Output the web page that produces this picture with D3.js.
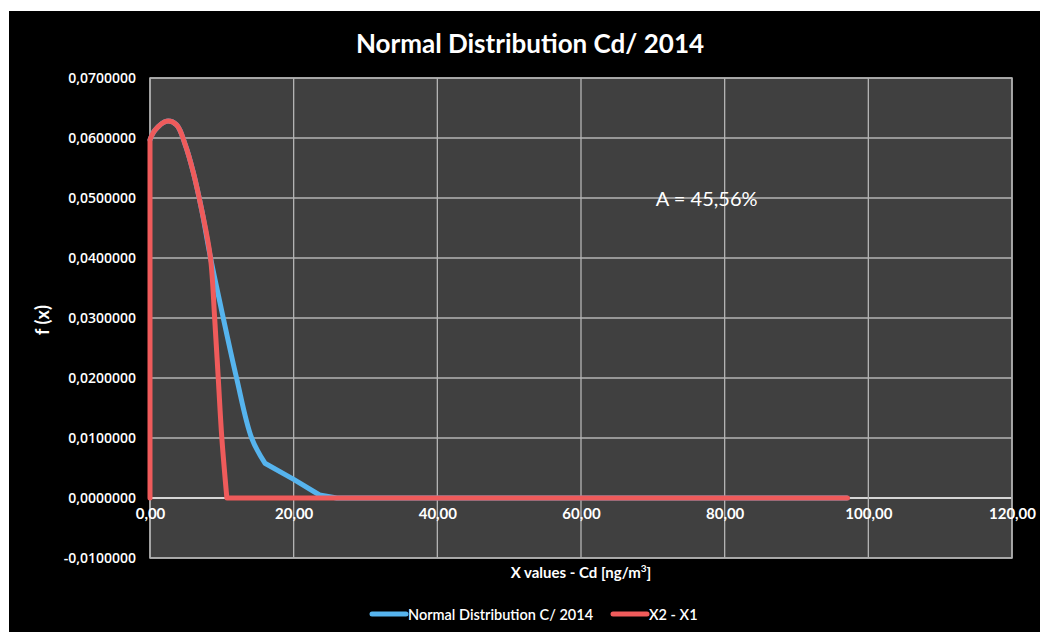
<!DOCTYPE html>
<html>
<head>
<meta charset="utf-8">
<script src="https://cdn.jsdelivr.net/npm/d3@7"></script>
<style>
  html, body { margin: 0; padding: 0; background: #ffffff; }
  svg { display: block; }
</style>
</head>
<body>
<svg id="chart" width="1040" height="632"></svg>
<script>
// Tick values
const xTicks = [0, 20, 40, 60, 80, 100, 120];
const yTicks = [-0.01, 0, 0.01, 0.02, 0.03, 0.04, 0.05, 0.06, 0.07];

// Normal distribution curve for Cd 2014: x (ng/m3) and f(x)
const normalX = [0, 0.7, 2.3, 3.7, 4.9, 6.0, 7.2, 8.4, 10.2, 12.05, 14.15, 16.0, 20.0, 23.6, 26.0, 40, 60, 80, 97];
const normalF = [0.0597, 0.0613, 0.0628, 0.0622, 0.0589, 0.0544, 0.0480, 0.0402, 0.0300, 0.0200, 0.0100, 0.0058, 0.0031, 0.0005, 0.0000, 0, 0, 0, 0];

// Area between X1 and X2: rising edge, curve section, falling edge, baseline
const areaX = [0, 0, 0.7, 2.3, 3.7, 4.9, 6.0, 7.2, 8.4, 9.0, 9.5, 10.0, 10.7, 97.1];
const areaF = [0, 0.0597, 0.0613, 0.0628, 0.0622, 0.0589, 0.0544, 0.0480, 0.0402, 0.0300, 0.0200, 0.0100, 0, 0];

const seriesNames = ["Normal Distribution C/ 2014", "X2 - X1"];
const seriesColors = ["#56b4ee", "#ef5b5b"];
const annotation = { x: 77.5, y: 0.05, text: "A = 45,56%" };

const svg = d3.select("#chart");
const W = 1040, H = 632;
const plot = { left: 150, right: 1012, top: 78, bottom: 558 };

const fmtLocale = d3.formatLocale({ decimal: ",", thousands: ".", grouping: [3], currency: ["", ""], minus: "-" });
const fmtY = fmtLocale.format(".7f");
const fmtX = fmtLocale.format(".2f");

const x = d3.scaleLinear().domain([0, 120]).range([plot.left, plot.right]);
const y = d3.scaleLinear().domain([-0.01, 0.07]).range([plot.bottom, plot.top]);

// chart background
svg.append("rect").attr("x", 9).attr("y", 11).attr("width", W - 9).attr("height", H - 11).attr("fill", "#000");

// plot area
svg.append("rect")
  .attr("x", plot.left).attr("y", plot.top)
  .attr("width", plot.right - plot.left).attr("height", plot.bottom - plot.top)
  .attr("fill", "#404040");

// gridlines
const grid = svg.append("g");
grid.selectAll("line.h").data(yTicks).join("line")
  .attr("x1", plot.left).attr("x2", plot.right)
  .attr("y1", d => y(d)).attr("y2", d => y(d))
  .attr("stroke", d => d === 0 ? "#d6d6d6" : "#b5b5b5")
  .attr("stroke-width", d => d === 0 ? 2 : 1.3);
grid.selectAll("line.v").data(xTicks).join("line")
  .attr("x1", d => x(d)).attr("x2", d => x(d))
  .attr("y1", plot.top).attr("y2", plot.bottom)
  .attr("stroke", "#b5b5b5").attr("stroke-width", 1.3);

svg.append("rect")
  .attr("x", plot.left).attr("y", plot.top)
  .attr("width", plot.right - plot.left).attr("height", plot.bottom - plot.top)
  .attr("fill", "none").attr("stroke", "#b0b0b0").attr("stroke-width", 1.5);

// y axis labels
const yAxis = d3.axisLeft(y).tickValues(yTicks).tickFormat(fmtY).tickSize(0).tickPadding(14);
const yg = svg.append("g").attr("transform", `translate(${plot.left},0)`).call(yAxis);
yg.select(".domain").remove();
yg.selectAll("text")
  .attr("fill", "#fff")
  .style("font-family", "'Open Sans', 'DejaVu Sans', sans-serif")
  .style("font-weight", 600)
  .style("font-size", "14px");

// x axis labels placed at y = 0
const xAxis = d3.axisBottom(x).tickValues(xTicks).tickFormat(fmtX).tickSize(0).tickPadding(10);
const xg = svg.append("g").attr("transform", `translate(0,${y(0)})`).call(xAxis);
xg.select(".domain").remove();
xg.selectAll("text")
  .attr("fill", "#fff")
  .style("font-family", "Lato, 'Open Sans', sans-serif")
  .style("font-weight", 700)
  .style("font-size", "15px");

// series paths: straight edges stay linear, the curved body is smoothed
const toPts = (xs, fs) => xs.map((v, i) => [v, fs[i]]);
const linear = d3.line().x(d => x(d[0])).y(d => y(d[1]));
const smooth = d3.line().x(d => x(d[0])).y(d => y(d[1])).curve(d3.curveCatmullRom.alpha(0.5));
const joinPaths = parts => parts.map((p, i) => i ? p.replace(/^M/, "L") : p).join("");

const normalPts = toPts(normalX, normalF);
const knee = normalX.indexOf(16.0);
const normalPath = joinPaths([smooth(normalPts.slice(0, knee + 1)), linear(normalPts.slice(knee))]);

const areaPts = toPts(areaX, areaF);
const riseEnd = 1, fallStart = areaPts.length - 2;
const areaPath = joinPaths([
  linear(areaPts.slice(0, riseEnd + 1)),
  smooth(areaPts.slice(riseEnd, fallStart + 1)),
  linear(areaPts.slice(fallStart))
]);

svg.append("path")
  .attr("d", normalPath).attr("fill", "none")
  .attr("stroke", seriesColors[0]).attr("stroke-width", 5)
  .attr("stroke-linejoin", "round").attr("stroke-linecap", "round");
svg.append("path")
  .attr("d", areaPath).attr("fill", "none")
  .attr("stroke", seriesColors[1]).attr("stroke-width", 5)
  .attr("stroke-linejoin", "round").attr("stroke-linecap", "round");

// annotation
svg.append("text")
  .attr("x", x(annotation.x)).attr("y", y(annotation.y))
  .attr("text-anchor", "middle").attr("dominant-baseline", "central")
  .attr("fill", "#fff")
  .style("font-family", "Lato, 'Open Sans', sans-serif")
  .style("font-size", "20px")
  .text(annotation.text);

// title
svg.append("text")
  .attr("x", 530).attr("y", 53)
  .attr("text-anchor", "middle").attr("fill", "#fff")
  .style("font-family", "Lato, 'Open Sans', sans-serif")
  .style("font-weight", 700).style("font-size", "26px")
  .text("Normal Distribution Cd/ 2014");

// axis titles
const xt = svg.append("text")
  .attr("x", 581).attr("y", 578)
  .attr("text-anchor", "middle").attr("fill", "#fff")
  .style("font-family", "Lato, 'Open Sans', sans-serif")
  .style("font-weight", 700).style("font-size", "15px");
xt.append("tspan").text("X values - Cd [ng/m");
xt.append("tspan").attr("dy", -6).style("font-size", "10px").text("3");
xt.append("tspan").attr("dy", 6).text("]");

svg.append("text")
  .attr("transform", `translate(49,320) rotate(-90)`)
  .attr("text-anchor", "middle").attr("fill", "#fff")
  .style("font-family", "Lato, 'Open Sans', sans-serif")
  .style("font-weight", 700).style("font-size", "18px")
  .text("f (x)");

// legend
const legend = svg.append("g").attr("transform", "translate(0,614)");
const legendItems = [{ x0: 372, x1: 406 }, { x0: 613, x1: 647 }];
legendItems.forEach((it, i) => {
  legend.append("line")
    .attr("x1", it.x0).attr("x2", it.x1).attr("y1", 0).attr("y2", 0)
    .attr("stroke", seriesColors[i]).attr("stroke-width", 5).attr("stroke-linecap", "round");
  legend.append("text")
    .attr("x", it.x1 + 2).attr("y", 0).attr("dominant-baseline", "central")
    .attr("fill", "#fff")
    .style("font-family", "Lato, 'Open Sans', sans-serif")
    .style("font-weight", 600)
    .style("font-size", "14.5px")
    .text(seriesNames[i]);
});
</script>
</body>
</html>
